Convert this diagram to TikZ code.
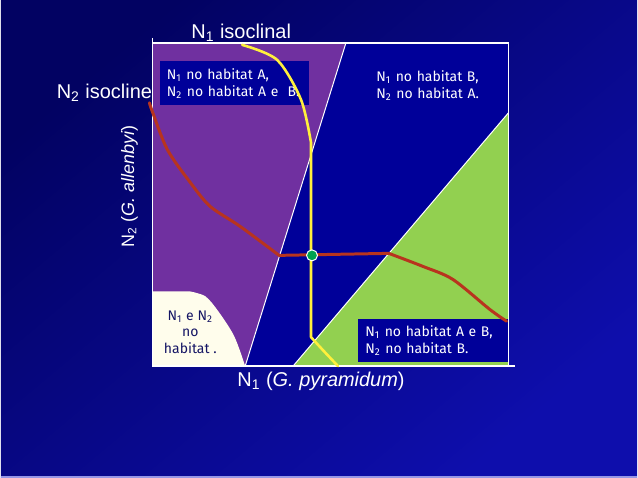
\documentclass[tikz,border=0pt]{standalone}
\usepackage{fontspec}
\setmainfont{Liberation Sans}
\newfontfamily\boxfont{Fira Sans}
\usetikzlibrary{positioning}
\definecolor{slidedark}{RGB}{2,2,98}
\definecolor{slidelight}{RGB}{14,14,172}
\definecolor{slideedge}{RGB}{150,150,230}
\definecolor{plotblue}{RGB}{0,0,153}
\definecolor{regpurple}{RGB}{112,48,160}
\definecolor{reggreen}{RGB}{146,208,80}
\definecolor{cream}{RGB}{255,253,236}
\definecolor{inknavy}{RGB}{20,20,100}
\definecolor{isored}{RGB}{184,52,30}
\definecolor{isoyellow}{RGB}{255,240,60}
\definecolor{eqgreen}{RGB}{0,160,80}

\begin{document}
\begin{tikzpicture}
    [
    x=0.5pt,y=-0.5pt,
    axislabel/.style={text=white,font=\fontsize{10}{12}\selectfont,inner sep=0pt},
    habbox/.style={fill=plotblue,text=white,font=\boxfont\fontsize{7}{8.5}\selectfont,align=left,anchor=north west,inner sep=3.5pt,text width=68pt,minimum height=20.5pt},
    point/.style={circle,draw=white,fill=eqgreen,inner sep=0pt,minimum size=5.5pt,line width=0.5pt},
    frame/.style={white,line width=0.8pt},
    isocline/.style={line width=1.5pt,line join=round,line cap=round},
    ]
    \shade[top color=slidedark,bottom color=slidelight,shading angle=40] (0,0) rectangle (638,479);
    \draw[slideedge,line width=0.8pt] (0,478.2) -- (638,478.2);
    \useasboundingbox (0,0) rectangle (638,479);

    % regions
    \fill[plotblue] (152,43) rectangle (509,367);
    \fill[regpurple] (152,43) -- (346,43) -- (245,367) -- (152,367) -- cycle;
    \fill[cream] (152,292) -- plot[smooth] coordinates {(189,292) (205,297) (218,312) (234,337) (245,367)} -- (152,367) -- cycle;
    \fill[reggreen] (293,367) -- (509,113) -- (509,367) -- cycle;
    \draw[white,line width=0.5pt] (346,43) -- (245,367);
    \draw[white,line width=0.5pt] (293,367) -- (509,113);
    \draw[frame] (152,38) -- (152,367) -- (515,367);
    \draw[frame] (152,43) -- (509,43) -- (509,367);

    % boxes
    \node (habA) [habbox] at (159,61) {N\textsubscript{1} no habitat A,\\N\textsubscript{2} no habitat A e~~B.};
    \node (habB) [habbox,fill=none] at (369,63) {N\textsubscript{1} no habitat B,\\N\textsubscript{2} no habitat A.};
    \node (habAB) [habbox] at (358,319) {N\textsubscript{1} no habitat A e B,\\N\textsubscript{2} no habitat B.};
    \node (nohab) [text=inknavy,font=\boxfont\fontsize{7}{8.3}\selectfont,align=center] at (190,333) {N\textsubscript{1} e N\textsubscript{2}\\no\\habitat .};

    % isoclines
    \draw[isocline,isored] plot[smooth] coordinates {(149,103) (152,112) (167,150) (190,183) (210,207) (240,227) (279,256)}
      -- (389,254) -- plot[smooth] coordinates {(389,254) (423,267) (453,280) (490,310) (507,322)};
    \draw[isocline,isoyellow,line width=1.3pt] plot[smooth] coordinates {(242,45) (277,60) (301,100) (311,143)}
      -- (311,338) -- plot[smooth] coordinates {(311,338) (322,350) (338,367)};
    \node (eq) [point] at (312,256) {};

    % axis labels
    \coordinate (top) at (152,93);
    \node (n1iso) [axislabel] at (241,33) {N\textsubscript{1} isoclinal};
    \node (n2iso) [axislabel,left=0pt of top] {N\textsubscript{2} isocline};
    \node (xlab) [axislabel] at (321,382) {N\textsubscript{1} (\textit{G. pyramidum})};
    \node (ylab) [axislabel,rotate=90,font=\fontsize{9}{11}\selectfont] at (129,187) {N\textsubscript{2} (\textit{G. allenbyi})};
\end{tikzpicture}
\end{document}
